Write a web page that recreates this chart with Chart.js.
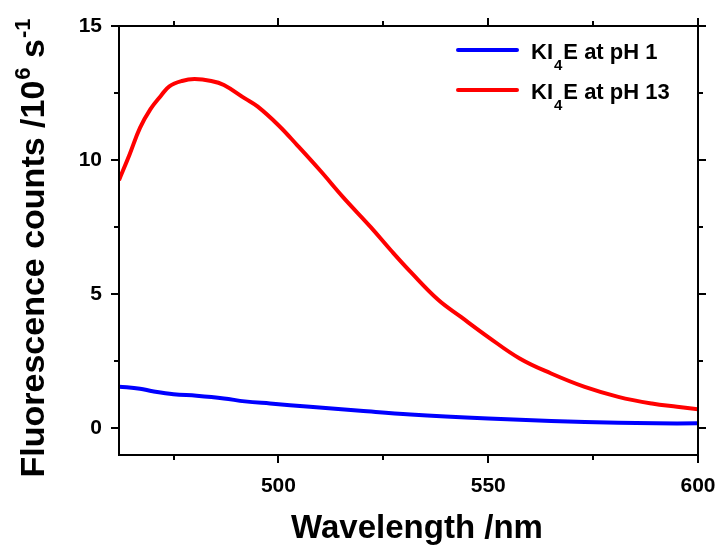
<!DOCTYPE html>
<html>
<head>
<meta charset="utf-8">
<title>Fluorescence spectra of KI4E</title>
<script src="https://cdn.jsdelivr.net/npm/chart.js@4.4.1/dist/chart.umd.min.js"></script>
<style>
  html, body { margin: 0; padding: 0; background: #ffffff; }
  #wrap { position: relative; width: 721px; height: 546px; }
</style>
</head>
<body>
<div id="wrap"><canvas id="chart" width="721" height="546"></canvas></div>
<script>
// Emission spectra (wavelength in nm, counts in 10^6 s^-1)
const WAVELENGTH_PH1 = [462, 467, 470, 475, 480.5, 487, 492, 498, 507.5, 519.5, 531.5, 550, 565, 581, 590, 600];
const COUNTS_PH1     = [1.55, 1.47, 1.38, 1.27, 1.21, 1.11, 1.00, 0.92, 0.80, 0.65, 0.51, 0.36, 0.27, 0.20, 0.18, 0.18];

const WAVELENGTH_PH13 = [462, 464.5, 467, 469.5, 472, 474, 477, 480, 484, 487, 492, 495, 500, 504.5, 510, 515.5, 522, 527, 531.5, 538, 543.5, 550, 557.5, 565, 573, 581, 589, 595, 600];
const COUNTS_PH13     = [9.25, 10.2, 11.2, 11.9, 12.4, 12.75, 12.95, 13.02, 12.95, 12.8, 12.3, 12.0, 11.3, 10.55, 9.6, 8.6, 7.5, 6.6, 5.83, 4.8, 4.15, 3.4, 2.6, 2.04, 1.54, 1.17, 0.92, 0.8, 0.71];

// Legend entries: [main, subscript, rest]
const LABEL_PH1  = ['KI', '4', 'E at pH 1'];
const LABEL_PH13 = ['KI', '4', 'E at pH 13'];

// Axis ranges and ticks
const X_RANGE = [462, 600];
const Y_RANGE = [-1, 15];
const X_MAJOR = [500, 550, 600];
const X_MINOR = [475, 525, 575];
const Y_MAJOR = [0, 5, 10, 15];
const Y_MINOR = [2.5, 7.5, 12.5];

const X_TITLE = 'Wavelength /nm';
const Y_TITLE = ['Fluorescence counts /10', '6', ' s', '-1'];

const FONT = '"Liberation Sans", Arial, Helvetica, sans-serif';
const BLUE = '#0000ff';
const RED = '#ff0000';

function toPoints(xs, ys) {
  return xs.map((x, i) => ({ x: x, y: ys[i] }));
}

// Frame, tick marks, axis titles and legend
const decorations = {
  id: 'decorations',
  afterDatasetsDraw(chart) {
    const ctx = chart.ctx;
    const a = chart.chartArea;
    const xs = chart.scales.x, ys = chart.scales.y;
    ctx.save();
    ctx.strokeStyle = '#000';
    ctx.lineWidth = 2;
    ctx.lineCap = 'butt';
    ctx.strokeRect(a.left, a.top, a.right - a.left, a.bottom - a.top);

    const seg = (x1, y1, x2, y2) => {
      ctx.beginPath(); ctx.moveTo(x1, y1); ctx.lineTo(x2, y2); ctx.stroke();
    };
    const xt = (vals, len) => vals.forEach(v => {
      const p = Math.round(xs.getPixelForValue(v));
      seg(p, a.bottom, p, a.bottom + len);
      seg(p, a.top, p, a.top - len);
    });
    const yt = (vals, len) => vals.forEach(v => {
      const p = Math.round(ys.getPixelForValue(v));
      seg(a.left, p, a.left - len, p);
      seg(a.right, p, a.right + len, p);
    });
    xt(X_MAJOR, 8); xt(X_MINOR, 5);
    yt(Y_MAJOR, 8); yt(Y_MINOR, 5);

    // x-axis title
    ctx.fillStyle = '#000';
    ctx.font = 'bold 33px ' + FONT;
    ctx.textAlign = 'center';
    ctx.textBaseline = 'alphabetic';
    ctx.fillText(X_TITLE, 417, 538);

    // y-axis title with superscripts
    ctx.save();
    ctx.translate(44, 248);
    ctx.rotate(-Math.PI / 2);
    const big = 'bold 34px ' + FONT, small = 'bold 22px ' + FONT;
    ctx.font = big; const w0 = ctx.measureText(Y_TITLE[0]).width;
    const w2 = ctx.measureText(Y_TITLE[2]).width;
    ctx.font = small; const w1 = ctx.measureText(Y_TITLE[1]).width;
    const w3 = ctx.measureText(Y_TITLE[3]).width;
    let x = -(w0 + w1 + w2 + w3 + 2) / 2;
    ctx.textAlign = 'left';
    ctx.font = big; ctx.fillText(Y_TITLE[0], x, 0); x += w0;
    ctx.font = small; ctx.fillText(Y_TITLE[1], x + 1, -14); x += w1 + 1;
    ctx.font = big; ctx.fillText(Y_TITLE[2], x, 0); x += w2;
    ctx.font = small; ctx.fillText(Y_TITLE[3], x + 1, -14);
    ctx.restore();

    // legend
    const entries = [
      { parts: LABEL_PH1, color: chart.data.datasets[0].borderColor, y: 50 },
      { parts: LABEL_PH13, color: chart.data.datasets[1].borderColor, y: 90 }
    ];
    entries.forEach(e => {
      ctx.strokeStyle = e.color;
      ctx.lineWidth = 4;
      ctx.lineCap = 'round';
      seg(458, e.y, 517, e.y);
      ctx.fillStyle = '#000';
      ctx.textAlign = 'left';
      let tx = 531;
      ctx.font = 'bold 22px ' + FONT;
      ctx.fillText(e.parts[0], tx, e.y + 9); tx += ctx.measureText(e.parts[0]).width + 1;
      ctx.font = 'bold 15px ' + FONT;
      ctx.fillText(e.parts[1], tx, e.y + 20); tx += ctx.measureText(e.parts[1]).width + 1;
      ctx.font = 'bold 22px ' + FONT;
      ctx.fillText(e.parts[2], tx, e.y + 9);
    });
    ctx.restore();
  }
};

new Chart(document.getElementById('chart'), {
  type: 'line',
  data: {
    datasets: [
      {
        label: LABEL_PH1.join(''),
        data: toPoints(WAVELENGTH_PH1, COUNTS_PH1),
        borderColor: BLUE,
        borderWidth: 4,
        pointRadius: 0,
        tension: 0.4,
        fill: false
      },
      {
        label: LABEL_PH13.join(''),
        data: toPoints(WAVELENGTH_PH13, COUNTS_PH13),
        borderColor: RED,
        borderWidth: 4,
        pointRadius: 0,
        tension: 0.4,
        fill: false
      }
    ]
  },
  options: {
    responsive: false,
    animation: false,
    events: [],
    layout: { padding: { left: 0, top: 26, right: 23, bottom: 0 } },
    plugins: {
      legend: { display: false },
      tooltip: { enabled: false },
      title: { display: false }
    },
    scales: {
      x: {
        type: 'linear',
        min: X_RANGE[0],
        max: X_RANGE[1],
        grid: { display: false, drawTicks: false },
        border: { display: false },
        afterFit: s => { s.height = 91; s.paddingLeft = 0; s.paddingRight = 0; },
        afterBuildTicks: s => { s.ticks = X_MAJOR.map(v => ({ value: v })); },
        ticks: {
          color: '#000',
          padding: 19,
          maxRotation: 0,
          autoSkip: false,
          font: { family: FONT, weight: 'bold', size: 21 }
        }
      },
      y: {
        type: 'linear',
        min: Y_RANGE[0],
        max: Y_RANGE[1],
        grid: { display: false, drawTicks: false },
        border: { display: false },
        afterFit: s => { s.width = 119; s.paddingTop = 0; s.paddingBottom = 0; },
        afterBuildTicks: s => { s.ticks = Y_MAJOR.map(v => ({ value: v })); },
        ticks: {
          color: '#000',
          padding: 17,
          autoSkip: false,
          font: { family: FONT, weight: 'bold', size: 21 }
        }
      }
    }
  },
  plugins: [decorations]
});
</script>
</body>
</html>
